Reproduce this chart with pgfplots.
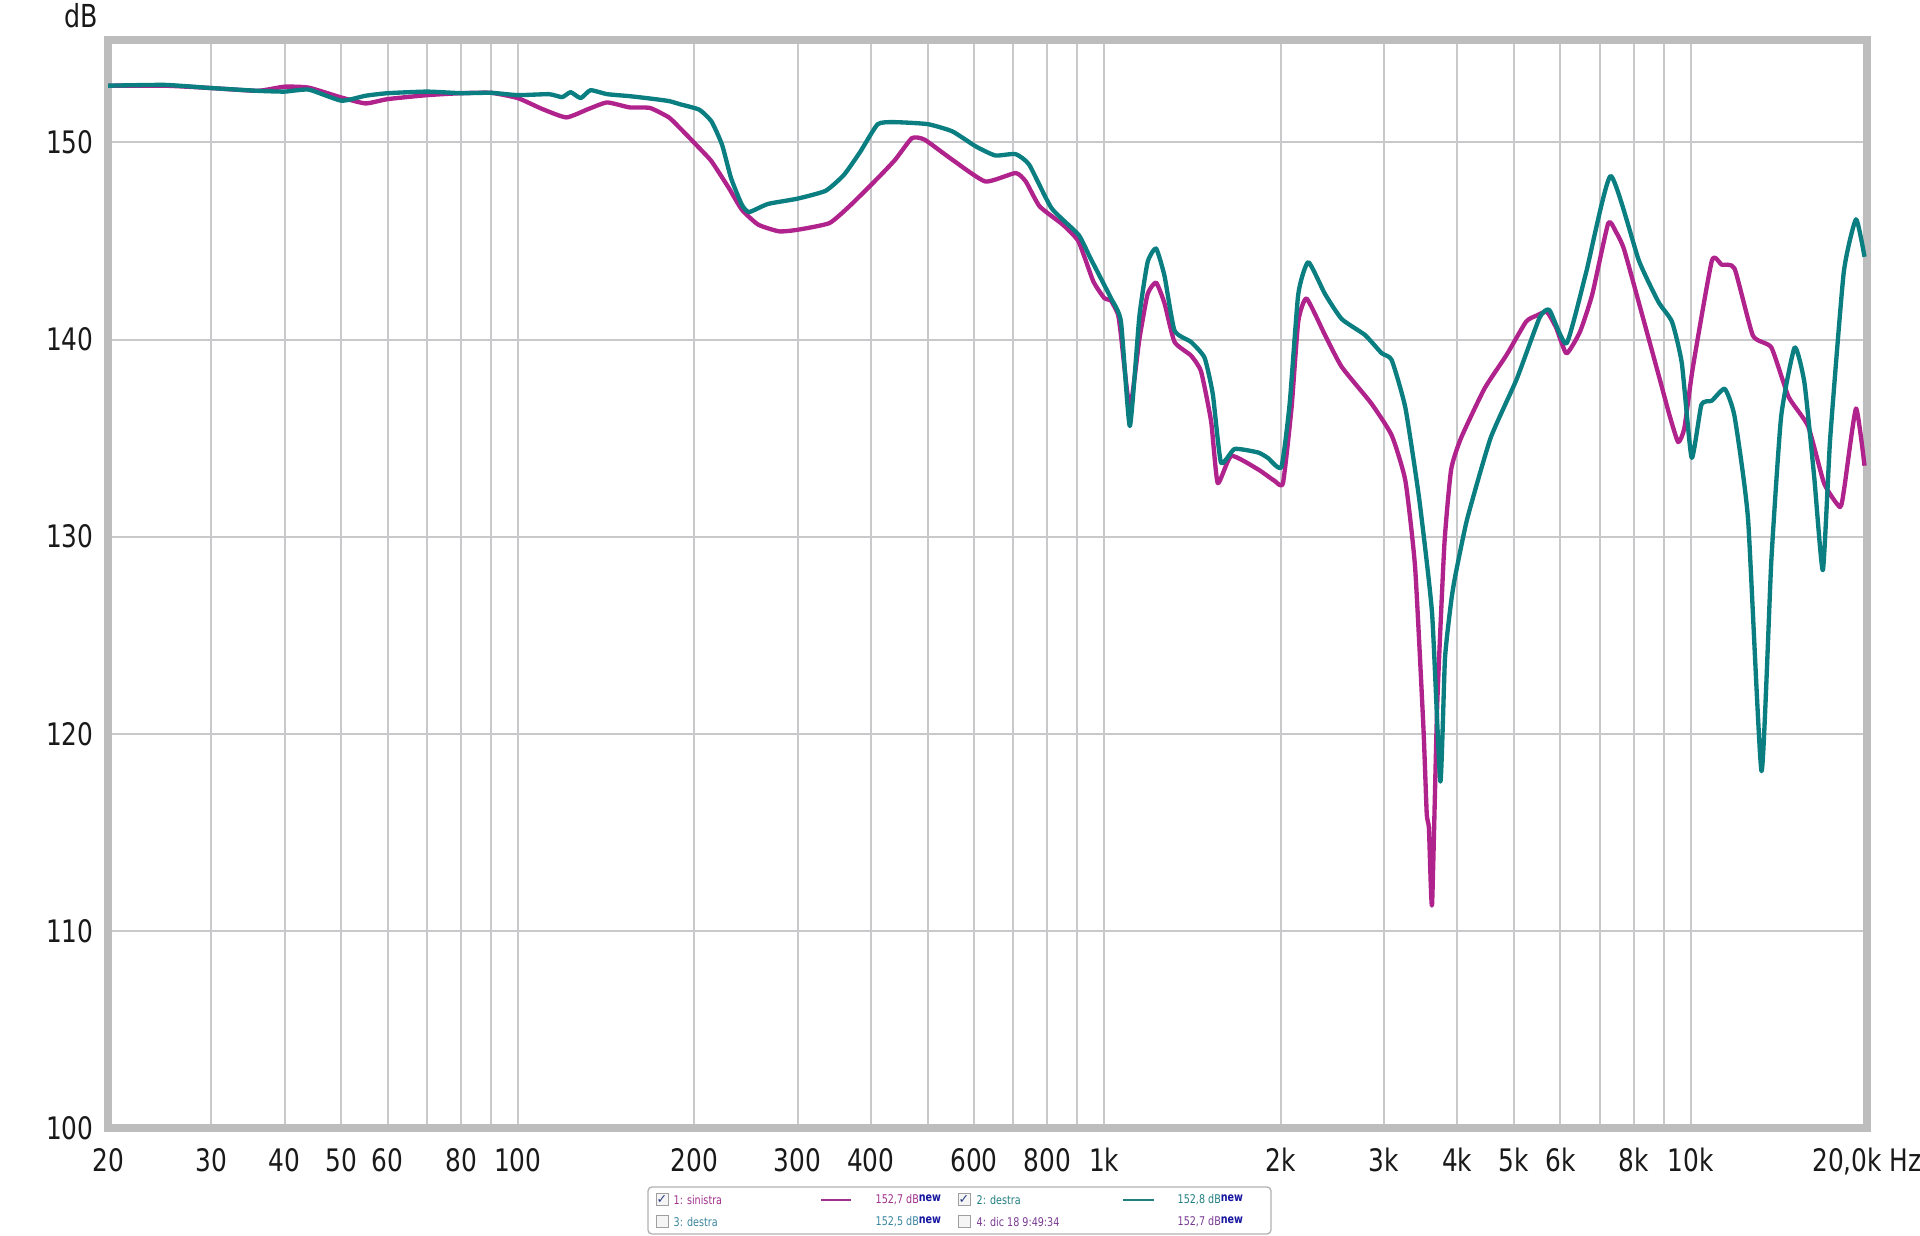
\documentclass[border=0pt]{standalone}
\usepackage{fontspec}
\setmainfont{DejaVu Sans}
\newfontfamily\tickfont[FakeStretch=0.8]{DejaVu Sans}
\newfontfamily\symfont{DejaVu Sans}
\usepackage{pgfplots}
\usepackage{pgfplotstable}
\pgfplotsset{compat=1.18}
\definecolor{mag}{HTML}{B0228C}
\definecolor{tealc}{HTML}{0A7E80}
\definecolor{gridc}{HTML}{C9C9CB}
\definecolor{framec}{HTML}{BDBDBD}
\definecolor{lg1}{HTML}{A0308C}
\definecolor{lg2}{HTML}{237E80}
\definecolor{lg3}{HTML}{3A86A0}
\definecolor{lg4}{HTML}{7A3A92}
\definecolor{newc}{HTML}{1414A0}
\definecolor{chk}{HTML}{2A3F80}

\pgfplotstableread{
f db
20 152.88
25 152.88
30 152.76
36 152.62
40 152.83
44 152.78
50 152.28
55 151.98
60 152.20
70 152.40
80 152.50
90 152.52
100 152.25
110 151.70
121 151.27
132 151.70
142 152.03
155 151.78
168 151.75
181 151.27
189 150.73
196 150.25
204 149.71
214 149.04
229 147.69
241 146.59
257 145.83
279 145.49
300 145.57
340 145.91
370 146.84
411 148.19
440 149.12
470 150.22
494 150.14
551 149.12
627 148.02
706 148.45
735 148.02
776 146.76
850 145.83
904 144.98
958 142.96
1000 142.11
1027 141.97
1056 141.27
1068 140.23
1106 136.53
1148 140.00
1186 142.31
1226 142.89
1267 141.85
1318 139.88
1406 139.19
1463 138.38
1522 135.84
1562 132.72
1647 134.10
1831 133.41
1953 132.83
2018 132.72
2087 136.53
2143 140.92
2214 142.08
2380 140.23
2542 138.61
2855 136.76
3093 135.14
3264 132.83
3391 128.44
3503 120.35
3549 115.95
3580 115.20
3624 111.33
3699 121.50
3804 129.60
3906 133.40
4060 135.00
4450 137.50
4851 139.20
5240 140.90
5446 141.20
5688 141.40
5900 140.60
6144 139.30
6480 140.40
6800 142.30
7238 145.90
7450 145.50
7700 144.60
8245 141.40
8860 138.00
9200 136.20
9524 134.80
9760 135.50
10094 138.60
10874 144.00
11300 143.80
11888 143.60
12778 140.20
13736 139.60
14694 137.10
15872 135.60
16900 132.70
17990 131.50
18300 132.50
19152 136.50
19808 133.60
}\sinistra

\pgfplotstableread{
f db
20 152.88
25 152.92
30 152.76
36 152.62
40 152.58
44 152.68
50 152.12
55 152.37
60 152.50
70 152.58
80 152.50
90 152.52
100 152.40
113 152.45
119 152.30
123 152.55
128 152.25
133 152.65
142 152.45
155 152.35
168 152.23
181 152.10
189 151.94
204 151.66
214 151.06
223 149.88
231 148.19
241 146.84
248 146.47
267 146.88
300 147.15
335 147.55
360 148.36
384 149.54
411 150.93
440 151.03
500 150.93
551 150.56
604 149.80
652 149.34
706 149.41
745 148.87
813 146.67
904 145.32
947 144.14
1027 142.10
1068 140.92
1106 135.61
1148 141.16
1186 143.93
1226 144.62
1267 143.24
1318 140.46
1406 139.88
1483 139.08
1532 137.23
1582 133.76
1669 134.45
1831 134.27
1903 133.99
2005 133.53
2072 136.76
2143 142.31
2229 143.93
2380 142.31
2542 141.04
2785 140.23
2973 139.31
3093 138.96
3264 136.53
3446 131.91
3624 126.13
3744 117.57
3813 123.82
3906 126.70
3970 128.00
4160 130.90
4560 135.00
5054 138.00
5526 141.10
5745 141.50
6144 139.80
6636 143.40
7308 148.30
8166 144.00
8820 141.90
9300 140.90
9664 138.80
10044 134.00
10438 136.70
10874 136.90
11438 137.50
11888 136.10
12534 130.90
13216 118.10
13736 128.80
14276 136.10
15052 139.60
15644 137.80
16258 133.00
16818 128.30
17310 135.00
18252 143.40
19152 146.10
19808 144.20
}\destra

\newcommand{\lgfont}{\tickfont\fontsize{3.6}{4}\selectfont}
\newcommand{\newsup}{\raisebox{0.8pt}{\textcolor{newc}{\bfseries new}}}
\newcommand{\chkbox}[3]{% x, y, checked(1/0)
  \draw[fill=gray!8, draw=gray!75, line width=0.3pt] (#1,#2) ++(0,-1.8pt) rectangle ++(3.6pt,3.6pt);
  \ifnum#3=1 \node[inner sep=0pt, text=chk] at ([xshift=1.8pt]#1,#2) {\symfont\fontsize{3.8}{4}\selectfont ✓};\fi
}

\begin{document}
\begin{tikzpicture}
\begin{axis}[
  at={(0,0)}, anchor=south west, scale only axis,
  width=527.7pt, height=326.4pt,
  xmode=log, xmin=20, xmax=20000, ymin=100, ymax=155.2,
  xtick={20,30,40,50,60,80,100,200,300,400,600,800,1000,2000,3000,4000,5000,6000,8000,10000,20000},
  xticklabels={20,30,40,50,60,80,100,200,300,400,600,800,1k,2k,3k,4k,5k,6k,8k,10k,{20,0k Hz}},
  minor xtick={70,90,500,700,900,7000,9000},
  ytick={100,110,120,130,140,150},
  grid=both,
  major grid style={gridc, line width=0.6pt},
  minor grid style={gridc, line width=0.6pt},
  major tick length=0pt, minor tick length=0pt,
  tick style={draw=none},
  axis line style={draw=framec, line width=2.6pt},
  /pgf/number format/assume math mode=true,
  /pgf/number format/1000 sep={},
  tick label style={font=\tickfont\fontsize{9.3}{10}\selectfont, text=black!90},
  yticklabel style={anchor=east, inner sep=0pt, xshift=-4.2pt},
  xticklabel style={anchor=base, inner sep=0pt, yshift=-13.1pt},
  clip=true,
]
\addplot[mag, line width=1.3pt, line join=round, smooth, tension=0.3] table[x=f, y=db] {\sinistra};
\addplot[tealc, line width=1.3pt, line join=round, smooth, tension=0.3] table[x=f, y=db] {\destra};
\end{axis}
% axis unit label
\node[font=\tickfont\fontsize{9.5}{10}\selectfont, text=black!90] at (-8.1pt,333.6pt) {dB};
% legend box
\draw[gray!60, line width=0.4pt, rounded corners=1.2pt, fill=white] (162pt,-17.7pt) rectangle (348.9pt,-31.8pt);
\chkbox{164.4pt}{-21.6pt}{1}
\chkbox{255pt}{-21.6pt}{1}
\chkbox{164.4pt}{-28.2pt}{0}
\chkbox{255pt}{-28.2pt}{0}
\node[anchor=west, inner sep=0pt, text=lg1] at (169.5pt,-21.6pt) {\lgfont 1: sinistra};
\node[anchor=west, inner sep=0pt, text=lg2] at (260.4pt,-21.6pt) {\lgfont 2: destra};
\node[anchor=west, inner sep=0pt, text=lg3] at (169.5pt,-28.2pt) {\lgfont 3: destra};
\node[anchor=west, inner sep=0pt, text=lg4] at (260.4pt,-28.2pt) {\lgfont 4: dic 18 9:49:34};
\draw[lg1, line width=0.7pt] (213.9pt,-21.6pt) -- (222.9pt,-21.6pt);
\draw[lg2, line width=0.7pt] (304.5pt,-21.6pt) -- (313.8pt,-21.6pt);
\node[anchor=west, inner sep=0pt, text=lg1] at (230.1pt,-21.6pt) {\lgfont 152,7 dB\newsup};
\node[anchor=west, inner sep=0pt, text=lg2] at (320.7pt,-21.6pt) {\lgfont 152,8 dB\newsup};
\node[anchor=west, inner sep=0pt, text=lg3] at (230.1pt,-28.2pt) {\lgfont 152,5 dB\newsup};
\node[anchor=west, inner sep=0pt, text=lg4] at (320.7pt,-28.2pt) {\lgfont 152,7 dB\newsup};
\pgfresetboundingbox
\useasboundingbox (-32.4pt,-32.4pt) rectangle (543.6pt,338.4pt);
\end{tikzpicture}
\end{document}
